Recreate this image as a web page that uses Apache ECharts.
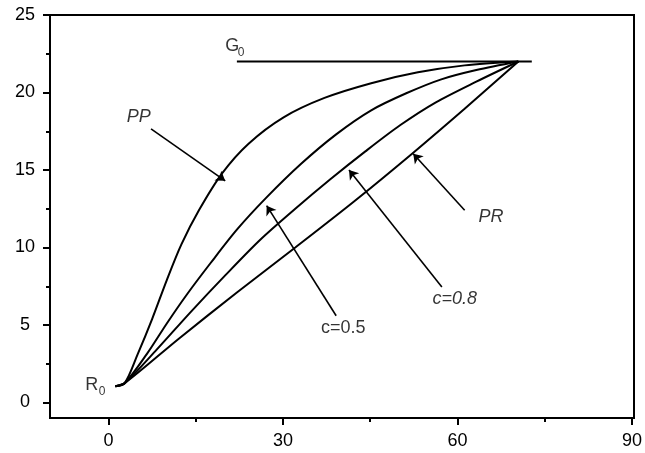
<!DOCTYPE html>
<html>
<head>
<meta charset="utf-8">
<script src="https://cdn.jsdelivr.net/npm/echarts@6/dist/echarts.min.js"></script>
<style>
html,body{margin:0;padding:0;background:#fff;}
#chart{width:645px;height:453px;}
</style>
</head>
<body>
<div id="chart"></div>
<script>
// ---- data ----
const xTickValues = [0, 30, 60, 90];
const yTickValues = [0, 5, 10, 15, 20, 25];

const curvePP  = [[1.2,1.05],[2.8,1.25],[5,3.1],[7.5,5.4],[10,7.9],[12.5,10.2],[15.5,12.4],[19.5,14.8],[24,16.7],[30,18.4],[37,19.65],[45,20.6],[53,21.3],[61,21.75],[70.2,22]];
const curveC05 = [[1.2,1.05],[2.8,1.25],[6.6,3.14],[10,5.1],[13.5,7.0],[17.5,9.0],[22,11.15],[27,13.2],[33,15.4],[39,17.3],[45,18.85],[51,19.95],[57,20.85],[63,21.45],[70.2,22]];
const curveC08 = [[1.2,1.05],[2.8,1.25],[8,3.3],[14,5.8],[20,8.2],[26,10.5],[32,12.5],[38,14.4],[44,16.2],[50,17.9],[56,19.35],[63,20.7],[70.2,22]];
const curvePR  = [[1.2,1.05],[2.8,1.25],[12,4.1],[22,7.1],[32,10.0],[42,12.95],[52,16.05],[61,18.95],[70.2,22]];
const lineG0 = [[22,22],[72.5,22]];

const arrows = [
  [[7.3,17.65],[20.0,14.3]],   // PP
  [[39.0,5.6],[27.1,12.7]],    // c=0.5
  [[57.1,7.45],[41.2,15.0]],   // c=0.8
  [[61.0,12.4],[52.2,16.05]]   // PR
];

const labelTexts = [
  [5.2, 18.4, 'PP', 'italic', 18],
  [40.2, 4.8, 'c=0.5', 'normal', 18],
  [59.3, 6.65, 'c=0.8', 'italic', 18],
  [65.5, 11.95, 'PR', 'italic', 18],
  [21.2, 23.0, 'G', 'normal', 18],
  [22.7, 22.55, '0', 'normal', 12],
  [-2.85, 1.13, 'R', 'normal', 18],
  [-1.1, 0.71, '0', 'normal', 12]
];

const FONT = 'Liberation Sans, Arial, sans-serif';
const chart = echarts.init(document.getElementById('chart'), null, {renderer:'canvas'});

function curve(name, data) {
  return {
    name, type:'line', xAxisIndex:0, yAxisIndex:0, data,
    smooth:0.3, showSymbol:false, silent:true,
    lineStyle:{color:'#000', width:2}
  };
}

const option = {
  animation:false,
  backgroundColor:'#fff',
  grid:[
    {left:50, right:11, top:15, bottom:35, show:true, borderColor:'#000', borderWidth:2, backgroundColor:'transparent'},
    {left:108.4, right:11, top:15, bottom:50.5, show:false}
  ],
  xAxis:[
    {gridIndex:0, type:'value', min:-10, max:90, show:false},
    {gridIndex:1, type:'value', min:xTickValues[0], max:xTickValues[xTickValues.length-1], interval:30,
     position:'bottom', offset:15.5,
     axisLine:{show:false, onZero:false},
     axisTick:{show:true, length:7, lineStyle:{color:'#000', width:2}},
     minorTick:{show:true, splitNumber:2, length:4, lineStyle:{color:'#000', width:2}},
     splitLine:{show:false}, minorSplitLine:{show:false},
     axisLabel:{color:'#000', fontSize:18, fontFamily:FONT, margin:14}}
  ],
  yAxis:[
    {gridIndex:0, type:'value', min:-1, max:25, show:false},
    {gridIndex:1, type:'value', min:yTickValues[0], max:yTickValues[yTickValues.length-1], interval:5,
     position:'left', offset:58.4,
     axisLine:{show:false, onZero:false},
     axisTick:{show:true, length:7, lineStyle:{color:'#000', width:2}},
     minorTick:{show:true, splitNumber:2, length:4, lineStyle:{color:'#000', width:2}},
     splitLine:{show:false}, minorSplitLine:{show:false},
     axisLabel:{color:'#000', fontSize:18, fontFamily:FONT, margin:25, align:'center'}}
  ],
  series:[
    curve('PP', curvePP),
    curve('c=0.5', curveC05),
    curve('c=0.8', curveC08),
    curve('PR', curvePR),
    {name:'G0', type:'line', xAxisIndex:0, yAxisIndex:0, data:lineG0, showSymbol:false, silent:true,
     lineStyle:{color:'#000', width:2}},
    {name:'arrows', type:'lines', coordinateSystem:'cartesian2d', xAxisIndex:0, yAxisIndex:0, silent:true,
     symbol:['none','arrow'], symbolSize:9,
     lineStyle:{color:'#000', width:1.6, opacity:1, curveness:0},
     data: arrows.map(a => ({coords:a}))},
    {name:'labels', type:'scatter', xAxisIndex:0, yAxisIndex:0, symbolSize:0, silent:true,
     data: labelTexts.map(t => ({
       value:[t[0], t[1]],
       label:{show:true, position:'inside', formatter:t[2], fontStyle:t[3], fontSize:t[4],
              color:'#000', fontFamily:FONT}
     }))}
  ]
};
chart.setOption(option);
</script>
</body>
</html>
